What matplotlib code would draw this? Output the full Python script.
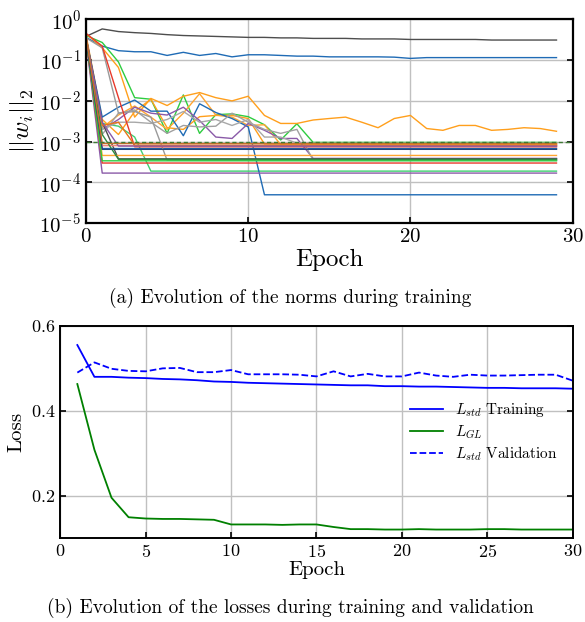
import matplotlib
matplotlib.use("Agg")
import matplotlib.pyplot as plt
from matplotlib.ticker import NullLocator

plt.rcParams["font.family"] = "serif"
plt.rcParams["font.serif"] = ["cmr10"]
plt.rcParams["mathtext.fontset"] = "cm"
plt.rcParams["axes.unicode_minus"] = False
plt.rcParams["axes.formatter.use_mathtext"] = True

# ---- weight norms per epoch (one list per weight group) ----
norm_epochs = list(range(30))

norm_colors = [
    "#4d4d4d", "#1f6bb5", "#2ecc40", "#3fd070", "#ff9f1c", "#ff9f1c",
    "#ffa531", "#1f6bb5", "#1f6bb5", "#8a5aa8", "#8a5aa8", "#a0a0a0",
    "#a8a8a8", "#9a9a9a", "#4d4d4d", "#e8392b", "#e8392b", "#f4837a",
    "#ffa531", "#2e8b3e", "#2ecc40", "#23467a", "#e8751a", "#8a5aa8",
    "#c8702a",
]

norm_values = [
    [0.38, 0.58, 0.50, 0.47, 0.45, 0.42, 0.40, 0.39, 0.38, 0.37, 0.36, 0.36, 0.35, 0.35, 0.34,
     0.34, 0.34, 0.33, 0.33, 0.33, 0.32, 0.32, 0.32, 0.32, 0.32, 0.31, 0.31, 0.31, 0.31, 0.31],
    [0.36, 0.22, 0.17, 0.16, 0.16, 0.13, 0.155, 0.13, 0.145, 0.12, 0.135, 0.135, 0.13, 0.125, 0.125,
     0.12, 0.12, 0.12, 0.12, 0.118, 0.11, 0.115, 0.115, 0.115, 0.115, 0.115, 0.115, 0.115, 0.115, 0.115],
    [0.40, 0.27, 0.09, 0.012, 0.011, 1.6e-3, 1.4e-2, 1.6e-3, 4.6e-3, 4.8e-3, 4.1e-3, 2.6e-3, 1.1e-3, 2.75e-3, 9.6e-4,
     9.6e-4, 9.6e-4, 9.6e-4, 9.6e-4, 9.6e-4, 9.6e-4, 9.6e-4, 9.6e-4, 9.6e-4, 9.6e-4, 9.6e-4, 9.6e-4, 9.6e-4, 9.6e-4, 9.6e-4],
    [0.35, 2.8e-3, 2.4e-3, 1.3e-3, 1.9e-4, 1.9e-4, 1.9e-4, 1.9e-4, 1.9e-4, 1.9e-4, 1.9e-4, 1.9e-4, 1.9e-4, 1.9e-4, 1.9e-4,
     1.9e-4, 1.9e-4, 1.9e-4, 1.9e-4, 1.9e-4, 1.9e-4, 1.9e-4, 1.9e-4, 1.9e-4, 1.9e-4, 1.9e-4, 1.9e-4, 1.9e-4, 1.9e-4, 1.9e-4],
    [0.45, 0.20, 0.066, 4.0e-3, 1.15e-2, 7.7e-3, 1.3e-2, 1.6e-2, 1.2e-2, 1.0e-2, 1.3e-2, 4.4e-3, 2.8e-3, 2.8e-3, 3.4e-3,
     3.7e-3, 4.0e-3, 3.0e-3, 2.2e-3, 3.7e-3, 4.4e-3, 2.1e-3, 1.9e-3, 2.5e-3, 2.5e-3, 1.9e-3, 2.0e-3, 2.2e-3, 2.1e-3, 1.8e-3],
    [0.42, 3.5e-3, 1.5e-3, 5.5e-3, 1.1e-2, 2.2e-3, 2.0e-3, 4.1e-3, 4.4e-3, 4.4e-3, 3.7e-3, 8.8e-4, 8.8e-4, 8.8e-4, 8.8e-4,
     8.8e-4, 8.8e-4, 8.8e-4, 8.8e-4, 8.8e-4, 8.8e-4, 8.8e-4, 8.8e-4, 8.8e-4, 8.8e-4, 8.8e-4, 8.8e-4, 8.8e-4, 8.8e-4, 8.8e-4],
    [0.38, 2.2e-3, 4.5e-3, 7.5e-3, 4.0e-3, 2.0e-3, 5.0e-3, 1.5e-2, 4.5e-3, 4.0e-3, 2.5e-3, 2.6e-3, 8.5e-4, 8.5e-4, 8.5e-4,
     8.5e-4, 8.5e-4, 8.5e-4, 8.5e-4, 8.5e-4, 8.5e-4, 8.5e-4, 8.5e-4, 8.5e-4, 8.5e-4, 8.5e-4, 8.5e-4, 8.5e-4, 8.5e-4, 8.5e-4],
    [0.36, 4.0e-3, 7.0e-3, 1.05e-2, 5.6e-3, 5.6e-3, 1.4e-3, 8.5e-3, 5.2e-3, 3.7e-3, 2.3e-3, 5e-5, 5e-5, 5e-5, 5e-5,
     5e-5, 5e-5, 5e-5, 5e-5, 5e-5, 5e-5, 5e-5, 5e-5, 5e-5, 5e-5, 5e-5, 5e-5, 5e-5, 5e-5, 5e-5],
    [0.38, 6.8e-4, 6.8e-4, 6.8e-4, 6.8e-4, 6.8e-4, 6.8e-4, 6.8e-4, 6.8e-4, 6.8e-4, 6.8e-4, 6.8e-4, 6.8e-4, 6.8e-4, 6.8e-4,
     6.8e-4, 6.8e-4, 6.8e-4, 6.8e-4, 6.8e-4, 6.8e-4, 6.8e-4, 6.8e-4, 6.8e-4, 6.8e-4, 6.8e-4, 6.8e-4, 6.8e-4, 6.8e-4, 6.8e-4],
    [0.30, 1.7e-4, 1.7e-4, 1.7e-4, 1.7e-4, 1.7e-4, 1.7e-4, 1.7e-4, 1.7e-4, 1.7e-4, 1.7e-4, 1.7e-4, 1.7e-4, 1.7e-4, 1.7e-4,
     1.7e-4, 1.7e-4, 1.7e-4, 1.7e-4, 1.7e-4, 1.7e-4, 1.7e-4, 1.7e-4, 1.7e-4, 1.7e-4, 1.7e-4, 1.7e-4, 1.7e-4, 1.7e-4, 1.7e-4],
    [0.32, 2.0e-3, 3.5e-3, 7.0e-3, 5.0e-3, 4.5e-3, 7.0e-3, 3.3e-3, 1.3e-3, 1.2e-3, 2.8e-3, 1.9e-3, 1.2e-3, 1.2e-3, 3.9e-4,
     3.9e-4, 3.9e-4, 3.9e-4, 3.9e-4, 3.9e-4, 3.9e-4, 3.9e-4, 3.9e-4, 3.9e-4, 3.9e-4, 3.9e-4, 3.9e-4, 3.9e-4, 3.9e-4, 3.9e-4],
    [0.33, 1.5e-3, 5.0e-3, 6.0e-3, 3.0e-3, 1.6e-3, 2.5e-3, 2.3e-3, 2.4e-3, 5.0e-3, 3.0e-3, 2.0e-3, 1.6e-3, 2.0e-3, 3.5e-4,
     3.5e-4, 3.5e-4, 3.5e-4, 3.5e-4, 3.5e-4, 3.5e-4, 3.5e-4, 3.5e-4, 3.5e-4, 3.5e-4, 3.5e-4, 3.5e-4, 3.5e-4, 3.5e-4, 3.5e-4],
    [0.30, 2.0e-3, 3.0e-3, 3.0e-3, 2.8e-3, 3.5e-3, 5.5e-3, 3.0e-3, 3.5e-3, 2.5e-3, 3.5e-3, 1.3e-3, 1.3e-3, 9.2e-4, 9.2e-4,
     9.2e-4, 9.2e-4, 9.2e-4, 9.2e-4, 9.2e-4, 9.2e-4, 9.2e-4, 9.2e-4, 9.2e-4, 9.2e-4, 9.2e-4, 9.2e-4, 9.2e-4, 9.2e-4, 9.2e-4],
    [0.35, 0.20, 5.0e-3, 5.5e-3, 4.0e-3, 3.5e-4, 3.5e-4, 3.5e-4, 3.5e-4, 3.5e-4, 3.5e-4, 3.5e-4, 3.5e-4, 3.5e-4, 3.5e-4,
     3.5e-4, 3.5e-4, 3.5e-4, 3.5e-4, 3.5e-4, 3.5e-4, 3.5e-4, 3.5e-4, 3.5e-4, 3.5e-4, 3.5e-4, 3.5e-4, 3.5e-4, 3.5e-4, 3.5e-4],
    [0.37, 3.0e-3, 3.8e-4, 3.8e-4, 3.8e-4, 3.8e-4, 3.8e-4, 3.8e-4, 3.8e-4, 3.8e-4, 3.8e-4, 3.8e-4, 3.8e-4, 3.8e-4, 3.8e-4,
     3.8e-4, 3.8e-4, 3.8e-4, 3.8e-4, 3.8e-4, 3.8e-4, 3.8e-4, 3.8e-4, 3.8e-4, 3.8e-4, 3.8e-4, 3.8e-4, 3.8e-4, 3.8e-4, 3.8e-4],
    [0.45, 0.22, 1.2e-2, 7.5e-4, 7.5e-4, 7.5e-4, 7.5e-4, 7.5e-4, 7.5e-4, 7.5e-4, 7.5e-4, 7.5e-4, 7.5e-4, 7.5e-4, 7.5e-4,
     7.5e-4, 7.5e-4, 7.5e-4, 7.5e-4, 7.5e-4, 7.5e-4, 7.5e-4, 7.5e-4, 7.5e-4, 7.5e-4, 7.5e-4, 7.5e-4, 7.5e-4, 7.5e-4, 7.5e-4],
    [0.32, 3.0e-4, 3.0e-4, 3.0e-4, 3.0e-4, 3.0e-4, 3.0e-4, 3.0e-4, 3.0e-4, 3.0e-4, 3.0e-4, 3.0e-4, 3.0e-4, 3.0e-4, 3.0e-4,
     3.0e-4, 3.0e-4, 3.0e-4, 3.0e-4, 3.0e-4, 3.0e-4, 3.0e-4, 3.0e-4, 3.0e-4, 3.0e-4, 3.0e-4, 3.0e-4, 3.0e-4, 3.0e-4, 3.0e-4],
    [0.40, 8.0e-4, 8.0e-4, 8.0e-4, 8.0e-4, 8.0e-4, 8.0e-4, 8.0e-4, 8.0e-4, 8.0e-4, 8.0e-4, 8.0e-4, 8.0e-4, 8.0e-4, 8.0e-4,
     8.0e-4, 8.0e-4, 8.0e-4, 8.0e-4, 8.0e-4, 8.0e-4, 8.0e-4, 8.0e-4, 8.0e-4, 8.0e-4, 8.0e-4, 8.0e-4, 8.0e-4, 8.0e-4, 8.0e-4],
    [0.38, 4.6e-4, 4.6e-4, 4.6e-4, 4.6e-4, 4.6e-4, 4.6e-4, 4.6e-4, 4.6e-4, 4.6e-4, 4.6e-4, 4.6e-4, 4.6e-4, 4.6e-4, 4.6e-4,
     4.6e-4, 4.6e-4, 4.6e-4, 4.6e-4, 4.6e-4, 4.6e-4, 4.6e-4, 4.6e-4, 4.6e-4, 4.6e-4, 4.6e-4, 4.6e-4, 4.6e-4, 4.6e-4, 4.6e-4],
    [0.36, 1.5e-3, 3.7e-4, 3.7e-4, 3.7e-4, 3.7e-4, 3.7e-4, 3.7e-4, 3.7e-4, 3.7e-4, 3.7e-4, 3.7e-4, 3.7e-4, 3.7e-4, 3.7e-4,
     3.7e-4, 3.7e-4, 3.7e-4, 3.7e-4, 3.7e-4, 3.7e-4, 3.7e-4, 3.7e-4, 3.7e-4, 3.7e-4, 3.7e-4, 3.7e-4, 3.7e-4, 3.7e-4, 3.7e-4],
    [0.34, 3.4e-4, 3.4e-4, 3.4e-4, 3.4e-4, 3.4e-4, 3.4e-4, 3.4e-4, 3.4e-4, 3.4e-4, 3.4e-4, 3.4e-4, 3.4e-4, 3.4e-4, 3.4e-4,
     3.4e-4, 3.4e-4, 3.4e-4, 3.4e-4, 3.4e-4, 3.4e-4, 3.4e-4, 3.4e-4, 3.4e-4, 3.4e-4, 3.4e-4, 3.4e-4, 3.4e-4, 3.4e-4, 3.4e-4],
    [0.33, 6.5e-4, 6.5e-4, 6.5e-4, 6.5e-4, 6.5e-4, 6.5e-4, 6.5e-4, 6.5e-4, 6.5e-4, 6.5e-4, 6.5e-4, 6.5e-4, 6.5e-4, 6.5e-4,
     6.5e-4, 6.5e-4, 6.5e-4, 6.5e-4, 6.5e-4, 6.5e-4, 6.5e-4, 6.5e-4, 6.5e-4, 6.5e-4, 6.5e-4, 6.5e-4, 6.5e-4, 6.5e-4, 6.5e-4],
    [0.36, 2.5e-3, 3.0e-3, 8.2e-4, 8.2e-4, 8.2e-4, 8.2e-4, 8.2e-4, 8.2e-4, 8.2e-4, 8.2e-4, 8.2e-4, 8.2e-4, 8.2e-4, 8.2e-4,
     8.2e-4, 8.2e-4, 8.2e-4, 8.2e-4, 8.2e-4, 8.2e-4, 8.2e-4, 8.2e-4, 8.2e-4, 8.2e-4, 8.2e-4, 8.2e-4, 8.2e-4, 8.2e-4, 8.2e-4],
    [0.34, 3.0e-3, 7.8e-4, 7.8e-4, 7.8e-4, 7.8e-4, 7.8e-4, 7.8e-4, 7.8e-4, 7.8e-4, 7.8e-4, 7.8e-4, 7.8e-4, 7.8e-4, 7.8e-4,
     7.8e-4, 7.8e-4, 7.8e-4, 7.8e-4, 7.8e-4, 7.8e-4, 7.8e-4, 7.8e-4, 7.8e-4, 7.8e-4, 7.8e-4, 7.8e-4, 7.8e-4, 7.8e-4, 7.8e-4],
    [0.40, 9.0e-4, 9.0e-4, 9.0e-4, 9.0e-4, 9.0e-4, 9.0e-4, 9.0e-4, 9.0e-4, 9.0e-4, 9.0e-4, 9.0e-4, 9.0e-4, 9.0e-4, 9.0e-4,
     9.0e-4, 9.0e-4, 9.0e-4, 9.0e-4, 9.0e-4, 9.0e-4, 9.0e-4, 9.0e-4, 9.0e-4, 9.0e-4, 9.0e-4, 9.0e-4, 9.0e-4, 9.0e-4, 9.0e-4],
]
norm_threshold = 1e-3

# ---- losses per epoch ----
loss_epochs = list(range(1, 31))
train_std = [0.555, 0.480, 0.480, 0.478, 0.477, 0.475, 0.474, 0.472, 0.469, 0.468,
             0.466, 0.465, 0.464, 0.463, 0.462, 0.461, 0.460, 0.460, 0.458, 0.458,
             0.457, 0.457, 0.456, 0.455, 0.454, 0.454, 0.453, 0.453, 0.453, 0.452]
train_gl = [0.463, 0.308, 0.195, 0.149, 0.146, 0.145, 0.145, 0.144, 0.143, 0.132,
            0.132, 0.132, 0.131, 0.132, 0.132, 0.126, 0.121, 0.121, 0.120, 0.120,
            0.121, 0.120, 0.120, 0.120, 0.121, 0.121, 0.120, 0.120, 0.120, 0.120]
val_std = [0.490, 0.514, 0.499, 0.494, 0.493, 0.500, 0.501, 0.491, 0.491, 0.496,
           0.486, 0.486, 0.486, 0.485, 0.481, 0.493, 0.481, 0.487, 0.481, 0.481,
           0.490, 0.483, 0.480, 0.485, 0.483, 0.483, 0.484, 0.485, 0.485, 0.471]

fig = plt.figure(figsize=(5.85, 6.22), dpi=100)

# (a) norms
ax1 = fig.add_axes([0.147, 0.641, 0.832, 0.328])
for vals, col in zip(norm_values, norm_colors):
    ax1.plot(norm_epochs, vals, color=col, lw=1.0)
ax1.axhline(norm_threshold, color="#3f7a35", ls="--", lw=1.0, dashes=(3, 2))
ax1.set_yscale("log")
ax1.set_xlim(0, 30)
ax1.set_ylim(1e-5, 1)
ax1.set_xticks([0, 10, 20, 30])
ax1.set_yticks([1e-5, 1e-4, 1e-3, 1e-2, 1e-1, 1])
ax1.yaxis.set_minor_locator(NullLocator())
ax1.grid(True, color="#c0c0c0", lw=1.0)
ax1.set_axisbelow(True)
ax1.tick_params(direction="in", right=True, labelsize=15, length=4, width=1.2)
for s in ax1.spines.values():
    s.set_linewidth(1.6)
ax1.set_xlabel("Epoch", fontsize=18, labelpad=2)
ax1.set_ylabel(r"$||w_i||_2$", fontsize=18, labelpad=2)

fig.text(0.496, 0.521, "(a) Evolution of the norms during training",
         ha="center", va="center", fontsize=14)

# (b) losses
ax2 = fig.add_axes([0.103, 0.135, 0.876, 0.341])
ax2.plot(loss_epochs, train_std, color="blue", lw=1.3, label=r"$L_{std}$ Training")
ax2.plot(loss_epochs, train_gl, color="green", lw=1.3, label=r"$L_{GL}$")
ax2.plot(loss_epochs, val_std, color="blue", lw=1.3, ls="--", label=r"$L_{std}$ Validation")
ax2.set_xlim(0, 30)
ax2.set_ylim(0.1, 0.6)
ax2.set_xticks([0, 5, 10, 15, 20, 25, 30])
ax2.set_yticks([0.2, 0.4, 0.6])
ax2.grid(True, color="#c0c0c0", lw=1.0)
ax2.set_axisbelow(True)
ax2.tick_params(direction="in", right=True, labelsize=13, length=4, width=1.2)
for s in ax2.spines.values():
    s.set_linewidth(1.4)
ax2.set_xlabel("Epoch", fontsize=15, labelpad=1)
ax2.set_ylabel("Loss", fontsize=15, labelpad=4)
ax2.legend(loc="upper left", bbox_to_anchor=(0.655, 0.71), frameon=False,
           fontsize=11, handlelength=2.2, handletextpad=0.8, labelspacing=0.25)

fig.text(0.496, 0.0225, "(b) Evolution of the losses during training and validation",
         ha="center", va="center", fontsize=14)

fig.savefig("out.png", dpi=100)
